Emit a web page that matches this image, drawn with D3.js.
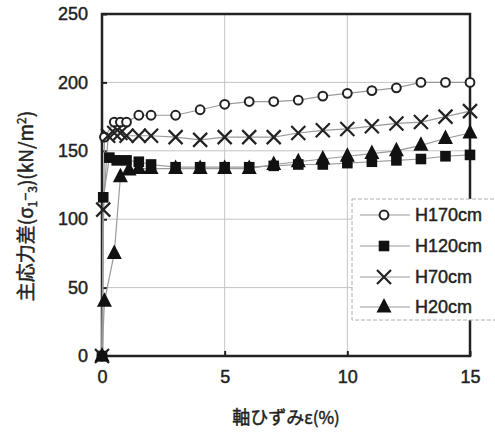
<!DOCTYPE html>
<html>
<head>
<meta charset="utf-8">
<script src="https://cdn.jsdelivr.net/npm/d3@7"></script>
<style>
  html, body { margin: 0; padding: 0; background: #fff; }
  svg { display: block; }
  text { fill: #222; stroke: #222; stroke-width: 0.45px; }
</style>
</head>
<body>
<svg id="chart" width="495" height="432"></svg>
<script>
// Axial strain (%) vs. principal stress difference (kN/m2), four sampling depths
const seriesNames = ["H170cm", "H120cm", "H70cm", "H20cm"];

const h170Strain = [0, 0.1, 0.5, 0.75, 1.0, 1.5, 2, 3, 4, 5, 6, 7, 8, 9, 10, 11, 12, 13, 14, 15];
const h170Stress = [0, 160, 171, 171, 171, 176, 176, 176, 180, 184, 186, 186, 187, 190, 192, 194, 196, 200, 200, 200];

const h120Strain = [0, 0.05, 0.3, 0.6, 1.0, 1.5, 2, 3, 4, 5, 6, 7, 8, 9, 10, 11, 12, 13, 14, 15];
const h120Stress = [0, 116, 145, 143, 143, 142, 140, 138, 138, 138, 138, 139, 140, 140, 141, 142, 143, 144, 146, 147];

const h70Strain = [0, 0.05, 0.25, 0.5, 0.75, 1.0, 1.5, 2, 3, 4, 5, 6, 7, 8, 9, 10, 11, 12, 13, 14, 15];
const h70Stress = [0, 107, 161, 163, 163, 161, 161, 161, 160, 158, 160, 160, 160, 163, 165, 166, 168, 170, 171, 175, 179];

const h20Strain = [0, 0.1, 0.5, 0.75, 1.1, 1.5, 2, 3, 4, 5, 6, 7, 8, 9, 10, 11, 12, 13, 14, 15];
const h20Stress = [0, 40, 75, 131, 136, 137, 137, 137, 137, 137, 137, 140, 142, 144, 146, 148, 150, 154, 159, 163];

const xTicks = [0, 5, 10, 15];
const yTicks = [0, 50, 100, 150, 200, 250];

const series = [
  { name: seriesNames[0], x: h170Strain, y: h170Stress, marker: "circle" },
  { name: seriesNames[1], x: h120Strain, y: h120Stress, marker: "square" },
  { name: seriesNames[2], x: h70Strain,  y: h70Stress,  marker: "cross" },
  { name: seriesNames[3], x: h20Strain,  y: h20Stress,  marker: "triangle" }
];

const svg = d3.select("#chart");
const plotL = 102, plotR = 470, plotT = 14, plotB = 356;

const x = d3.scaleLinear().domain([0, 15]).range([plotL, plotR]);
const y = d3.scaleLinear().domain([0, 250]).range([plotB, plotT]);

// grid
const grid = svg.append("g");
grid.selectAll("line.gy").data(yTicks.filter(v => v > 0 && v < 250)).join("line")
  .attr("x1", plotL).attr("x2", plotR)
  .attr("y1", d => y(d)).attr("y2", d => y(d))
  .attr("stroke", "#c4c4c4").attr("stroke-width", 1);
grid.selectAll("line.gx").data(xTicks.filter(v => v > 0 && v < 15)).join("line")
  .attr("y1", plotT).attr("y2", plotB)
  .attr("x1", d => x(d)).attr("x2", d => x(d))
  .attr("stroke", "#c4c4c4").attr("stroke-width", 1);

// axes with inward ticks
const yAxis = d3.axisLeft(y).tickValues(yTicks).tickSize(-5).tickPadding(14);
const xAxis = d3.axisBottom(x).tickValues(xTicks).tickSize(-5).tickPadding(14);

const gy = svg.append("g").attr("transform", `translate(${plotL},0)`).call(yAxis);
const gx = svg.append("g").attr("transform", `translate(0,${plotB})`).call(xAxis);
[gy, gx].forEach(g => {
  g.select(".domain").remove();
  g.selectAll(".tick line").attr("stroke", "#222").attr("stroke-width", 2);
  g.selectAll(".tick text")
    .attr("font-family", "Liberation Sans, Arial, sans-serif")
    .attr("font-size", 18).attr("fill", "#222");
});
gx.selectAll(".tick text").attr("dy", "0.71em");

// frame
svg.append("rect")
  .attr("x", plotL).attr("y", plotT)
  .attr("width", plotR - plotL).attr("height", plotB - plotT)
  .attr("fill", "none").attr("stroke", "#222").attr("stroke-width", 2.5);

// marker drawing
function drawMarker(g, type, cx, cy) {
  if (type === "circle") {
    g.append("circle").attr("cx", cx).attr("cy", cy).attr("r", 4.4)
      .attr("fill", "#fff").attr("stroke", "#222").attr("stroke-width", 2);
  } else if (type === "square") {
    g.append("rect").attr("x", cx - 5.3).attr("y", cy - 5.3).attr("width", 10.6).attr("height", 10.6)
      .attr("fill", "#111");
  } else if (type === "cross") {
    const s = 7;
    g.append("path")
      .attr("d", `M${cx - s},${cy - s}L${cx + s},${cy + s}M${cx - s},${cy + s}L${cx + s},${cy - s}`)
      .attr("stroke", "#222").attr("stroke-width", 2.2).attr("fill", "none");
  } else if (type === "triangle") {
    const h = 14.5, w = 15;
    g.append("path")
      .attr("d", `M${cx},${cy - h * 0.62}L${cx + w / 2},${cy + h * 0.38}L${cx - w / 2},${cy + h * 0.38}Z`)
      .attr("fill", "#111");
  }
}

const line = d3.line();

series.forEach(s => {
  const pts = s.x.map((v, i) => [x(v), y(s.y[i])]);
  svg.append("path").attr("d", line(pts))
    .attr("fill", "none").attr("stroke", "#9a9a9a").attr("stroke-width", 1.2);
});
// draw markers last so lines sit beneath all symbols
series.forEach(s => {
  const g = svg.append("g");
  s.x.forEach((v, i) => drawMarker(g, s.marker, x(v), y(s.y[i])));
});

// legend
const lg = svg.append("g");
lg.append("rect")
  .attr("x", 352).attr("y", 199).attr("width", 150).attr("height", 121)
  .attr("fill", "#fff").attr("stroke", "#b0b0b0").attr("stroke-width", 1)
  .attr("stroke-dasharray", "4,2");
const legendY = [215, 246, 277, 307];
series.forEach((s, i) => {
  const ly = legendY[i];
  lg.append("line").attr("x1", 360).attr("x2", 410).attr("y1", ly).attr("y2", ly)
    .attr("stroke", "#9a9a9a").attr("stroke-width", 1.2);
  drawMarker(lg, s.marker, 384, ly);
  lg.append("text").attr("x", 415).attr("y", ly).attr("dy", "0.36em")
    .attr("font-family", "Liberation Sans, Arial, sans-serif").attr("font-size", 18)
    .text(s.name);
});

// axis titles
const cjk = "'Noto Sans CJK JP', 'Liberation Sans', sans-serif";
const yt = svg.append("text")
  .attr("transform", "translate(33,206) rotate(-90)")
  .attr("text-anchor", "middle")
  .attr("font-family", cjk).attr("font-size", 19);
yt.append("tspan").text("主応力差(σ");
yt.append("tspan").attr("font-size", 12).attr("dy", 4).text("1");
yt.append("tspan").attr("font-size", 14).attr("dy", -6).text("−");
yt.append("tspan").attr("font-size", 12).attr("dy", 6).text("3");
yt.append("tspan").attr("dy", -4).text(")(kN/m");
yt.append("tspan").attr("font-size", 12).attr("dy", -7).text("2");
yt.append("tspan").attr("dy", 7).text(")");

const xt = svg.append("text")
  .attr("x", 286).attr("y", 424)
  .attr("text-anchor", "middle")
  .attr("font-family", cjk).attr("font-size", 18);
xt.append("tspan").text("軸ひずみ");
xt.append("tspan").attr("font-size", 17).text("ε(%)");
</script>
</body>
</html>
